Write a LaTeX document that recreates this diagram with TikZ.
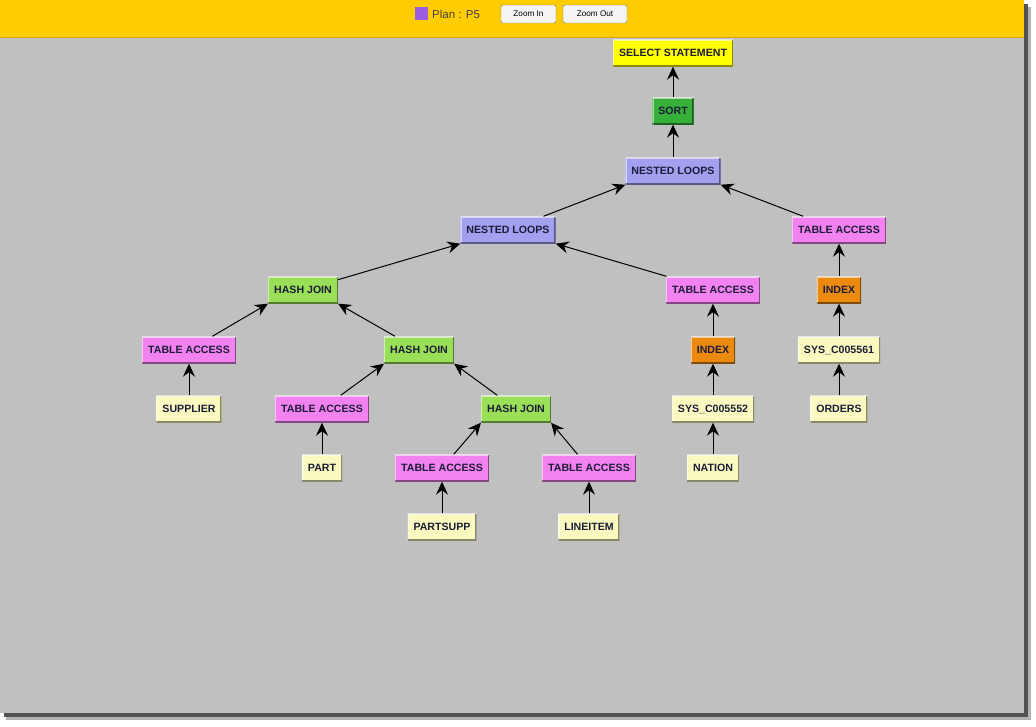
\documentclass[tikz,border=0pt]{standalone}
\usepackage{fontspec}
\setmainfont{Liberation Sans}
\usetikzlibrary{arrows.meta}
\definecolor{panel}{HTML}{C0C0C0}
\definecolor{bar}{HTML}{FFCC00}
\definecolor{barline}{HTML}{D9A800}
\definecolor{txt}{HTML}{1C1C38}
\definecolor{cSel}{HTML}{FFFF00}
\definecolor{cSort}{HTML}{36B03A}
\definecolor{cNest}{HTML}{A4A0F0}
\definecolor{cHash}{HTML}{9ADF58}
\definecolor{cTab}{HTML}{F282F0}
\definecolor{cIdx}{HTML}{EC8A10}
\definecolor{cLeaf}{HTML}{FAFAC0}
\definecolor{cSq}{HTML}{9A5CE0}
\tikzset{
  op/.style={rectangle, minimum height=27pt, inner xsep=6pt, inner ysep=0pt,
    font=\bfseries\fontsize{10.6}{12}\selectfont, text=txt,
    path picture={
      \draw[white,opacity=.55,line width=2.6pt] (path picture bounding box.south west) |- (path picture bounding box.north east);
      \draw[black,opacity=.45,line width=2.6pt] (path picture bounding box.south west) -| (path picture bounding box.north east);
    }},
  sel/.style={op, fill=cSel},
  sortn/.style={op, fill=cSort},
  nest/.style={op, fill=cNest},
  hash/.style={op, fill=cHash},
  tab/.style={op, fill=cTab},
  idx/.style={op, fill=cIdx},
  leaf/.style={op, fill=cLeaf},
  arr/.style={{Stealth[length=13pt,width=12pt,inset=4.5pt]}-, line width=1pt, black},
  btn/.style={rectangle, rounded corners=2pt, draw=black!55, fill=white!96!black, minimum height=18pt, inner xsep=2pt, inner ysep=0pt, font=\fontsize{8.2}{9}\selectfont, text=black}
}
\begin{document}
\begin{tikzpicture}[x=1pt,y=-1pt]
\useasboundingbox (0,0) rectangle (1036,726);
\fill[white] (0,0) rectangle (1036,726);
\fill[black!30] (6,7) rectangle (1031,720);
\fill[black!68] (4,4) rectangle (1028,717);
\fill[panel] (0,0) rectangle (1024,713);
\fill[bar] (0,0) rectangle (1024,37);
\draw[barline, line width=1pt] (0,37.5) -- (1024,37.5);

% header
\node[fill=cSq, minimum size=13pt, inner sep=0pt] (sq) at (421.5,13.5) {};
\node[anchor=west, inner sep=0pt, font=\fontsize{11.5}{13}\selectfont, text=black!75] (plan) at (432,14) {Plan : P5};
\node[btn, minimum width=55pt] (zin) at (528.5,14) {Zoom In};
\node[btn, minimum width=64pt] (zout) at (595,14) {Zoom Out};

% nodes
\node[sel] (selst) at (673,53) {SELECT STATEMENT};
\node[sortn] (sort) at (673,111) {SORT};
\node[nest] (nl1) at (673,171) {NESTED LOOPS};
\node[nest] (nl2) at (508,230) {NESTED LOOPS};
\node[tab] (taR) at (839,230) {TABLE ACCESS};
\node[hash] (hj1) at (303,290) {HASH JOIN};
\node[tab] (taM) at (713,290) {TABLE ACCESS};
\node[idx] (idxR) at (839,290) {INDEX};
\node[tab] (taS) at (189,350) {TABLE ACCESS};
\node[hash] (hj2) at (419,350) {HASH JOIN};
\node[idx] (idxM) at (713,350) {INDEX};
\node[leaf] (sys61) at (839,350) {SYS\_C005561};
\node[leaf] (supp) at (189,409) {SUPPLIER};
\node[tab] (taP) at (322,409) {TABLE ACCESS};
\node[hash] (hj3) at (516,409) {HASH JOIN};
\node[leaf] (sys52) at (713,409) {SYS\_C005552};
\node[leaf] (ord) at (839,409) {ORDERS};
\node[leaf] (part) at (322,468) {PART};
\node[tab] (taPS) at (442,468) {TABLE ACCESS};
\node[tab] (taL) at (589,468) {TABLE ACCESS};
\node[leaf] (nat) at (713,468) {NATION};
\node[leaf] (psupp) at (442,527) {PARTSUPP};
\node[leaf] (litem) at (589,527) {LINEITEM};

% edges
\draw[arr] (selst.south) -- (sort);
\draw[arr] (sort.south) -- (nl1);
\draw[arr] (nl1.south west) -- (nl2);
\draw[arr] (nl1.south east) -- (taR);
\draw[arr] (nl2.south west) -- (hj1);
\draw[arr] (nl2.south east) -- (taM);
\draw[arr] (taR.south) -- (idxR);
\draw[arr] (hj1.south west) -- (taS);
\draw[arr] (hj1.south east) -- (hj2);
\draw[arr] (taM.south) -- (idxM);
\draw[arr] (idxR.south) -- (sys61);
\draw[arr] (taS.south) -- (supp);
\draw[arr] (hj2.south west) -- (taP);
\draw[arr] (hj2.south east) -- (hj3);
\draw[arr] (idxM.south) -- (sys52);
\draw[arr] (sys61.south) -- (ord);
\draw[arr] (taP.south) -- (part);
\draw[arr] (hj3.south west) -- (taPS);
\draw[arr] (hj3.south east) -- (taL);
\draw[arr] (sys52.south) -- (nat);
\draw[arr] (taPS.south) -- (psupp);
\draw[arr] (taL.south) -- (litem);
\end{tikzpicture}
\end{document}
